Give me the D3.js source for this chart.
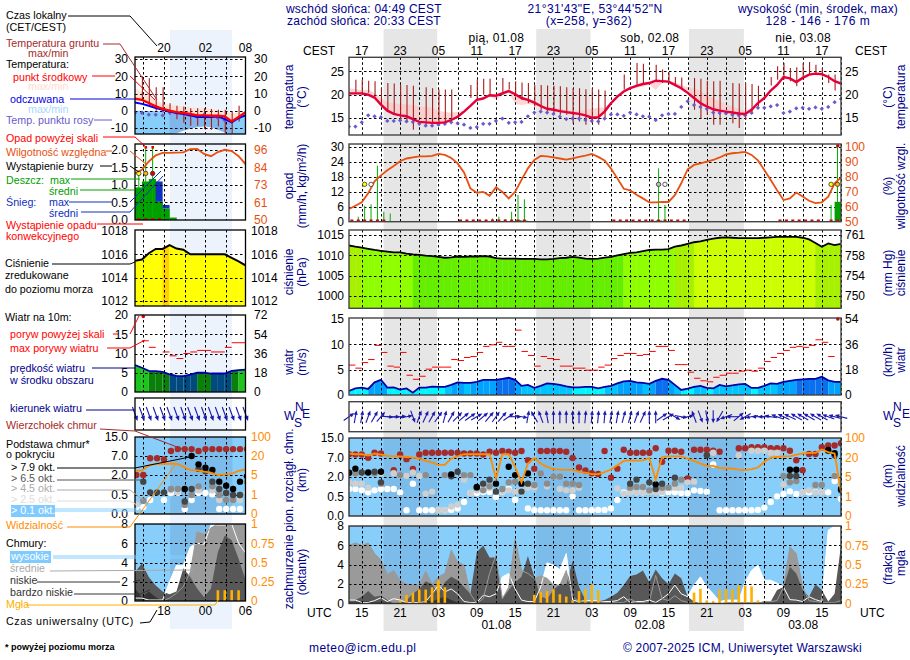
<!DOCTYPE html>
<html><head><meta charset="utf-8">
<script src="https://cdn.jsdelivr.net/npm/d3@7"></script>
<style>html,body{margin:0;padding:0;background:#fff}svg{display:block}text{font-family:"Liberation Sans",Arial,sans-serif;font-size:12px}</style>
</head><body><svg id="c" width="910" height="660"></svg>
<script>
// ---------- main meteogram, hourly from 13 UTC 31.07 ----------
const temp=[20.3,20.3,20.3,20.0,19.4,17.9,16.6,15.9,15.6,15.4,14.8,14.2,14.1,14.0,14.0,14.1,14.6,15.3,16.4,17.6,18.9,19.2,19.9,19.8,20.3,20.8,20.1,19.3,18.9,18.3,17.6,17.0,16.8,16.5,16.3,16.1,15.9,15.6,15.1,15.2,16.4,18.2,19.6,20.7,21.4,21.9,22.3,22.5,23.0,22.9,22.8,22.1,21.4,20.4,19.3,18.2,17.5,16.9,16.6,16.4,16.2,16.0,15.9,16.8,18.2,19.3,20.9,22.1,23.8,23.5,22.7,23.6,24.3,24.5,24.4,23.8,22.9,22.4];
const tempMax=[21.4,21.2,21,21,20.4,19.3,18.4,18.2,18,17.9,17.8,17.5,17.4,17.2,16.6,16.3,16.2,16.3,16.6,17.8,19,19.5,20.1,20.2,20.6,21.1,20.5,19.6,19.2,18.7,18,17.4,17.2,17,16.8,16.6,16.6,16.7,17,17.2,17.3,18.4,19.8,20.9,21.7,22.2,22.6,22.8,23.2,23.1,23,22.7,22.1,21.6,21.4,20.8,20,19.3,18.6,18,17.5,17,16.6,17.1,18.4,19.5,21.2,22.5,24,23.8,23,23.8,24.5,24.7,24.6,24,23.2,22.6];
const tempMin=[20,20,20,19.7,19,17.5,16.3,15.7,15.4,15.2,14.6,14,13.9,13.8,13.8,13.9,14.4,15.1,16.2,17.4,18.7,19,19.7,19,19.8,20.4,18,17.8,18,17.8,17.4,16.8,16.6,16.3,16.1,15.9,15.7,15.4,14.9,15,16.2,18,19.4,20.5,21.2,21.5,21.7,22.2,21,22.5,22.5,21.8,21.2,20.2,19.1,18,17.3,16.7,16.4,16.2,16,15.8,15.3,16.6,18,19.1,20.7,21.9,23.6,23.3,22.3,23.4,24.1,24.3,24.2,23.6,22.7,22.2];
const dewPoint=[13.2,13.2,14.1,15.6,15.4,15.2,14.4,14.4,14.5,14.3,14.2,13.8,13.4,13.4,13.6,13.8,14.1,13.9,13.6,12.9,13.1,13.8,13.8,14.4,14.9,14,14.1,14.2,15.4,16.2,16.4,16.2,15.9,15.3,14.8,14.9,14.9,14.6,14.4,14.3,14.9,15.8,15.8,15.5,16.2,15.8,15.4,15.3,14.6,15.6,15.9,15.9,17.4,18.6,17.8,17.4,17,16.2,16.1,16,15.7,15.6,15.6,16.1,17.2,17.2,17.5,17.8,16.1,16.4,17.1,17.2,17,17.3,17,17.4,18.4,19.1];
const groundMax=[null,23.2,23.2,23,22.9,21.4,22.5,22.4,22.1,22.1,21.9,null,21.6,21.4,21.1,21.1,21.1,null,null,22.1,23.2,23.4,23.4,null,23.6,22.7,22.9,22.6,22.5,22.1,22.1,22,21.9,21.8,21.6,21.4,21.4,21.2,21.4,21.1,20.9,null,null,24.3,null,26.8,26.6,null,26.4,25.4,24.8,23.8,23.7,null,23.6,23.4,23,22.9,23,null,22.5,22.4,22.5,22.3,21.9,null,23.8,26.1,26.8,25.7,25.9,26.8,27,26.4,25.7,24.3,24.3,null];
const groundMin=[null,20.4,20,20.4,19.6,17.9,16.4,16.1,14.6,14.3,12.5,null,13.6,13.6,13.4,14.3,15,null,null,19.3,18.9,20,20,null,20,21.1,19.6,18.9,18.2,17.5,16.8,16.4,16.1,15.7,15.7,13.9,14.3,13.6,13.9,13.6,15,null,null,21.1,null,22.1,22.5,null,22.9,22.5,22.5,21.8,21.1,null,16.8,15,15.7,13.6,13.6,null,13.9,12.9,14.6,16.1,17.5,null,22,23.2,23.2,22.9,21.8,23.6,24.3,24.3,23.9,22.5,20.9,null];
const humidity=[58.5,60.7,63,69,77,81,84.4,87.3,90.5,92.3,93,93.7,93.7,94,95.4,94.7,92.6,89,83,72.3,69.4,70,67.4,73,70,65.6,70,78,85.7,91.3,94,93.7,93,92.3,91.5,92.3,93.4,94.3,95.4,93.4,91,85.6,79,72,71,68,65.6,62.9,62.9,63.2,63.2,67.8,75.7,85,88,89,90.2,91.3,93,95,95.8,96.2,96.7,94.7,91,84.6,77.9,71,64.5,65.6,69.5,66.8,64,62.5,63,66.8,75.7,79.5];
const rainMax=[0,2,6.4,7,22.5,4,3.3,0,0,0,0,0,0,0,0,0,0,0,0,0,0,0,1.3,2,1,4,10.7,9,0,0,0,0,0,0,0,0,0,0,0,0,0,0,0,0,0,0,0,0,21.4,6.7,0,0,0,0,0,0,0,0,0,0,0,0,0,0,0,0,0,0,0,0,0,0,0,0,0,6.7,30];
const rainMean=[0,0,0,0,0,0,0,0,0,0,0,0,0,0,0,0,0,0,0,0,0,0,0,0,0,0,.6,.4,0,0,0,0,0,0,0,0,0,0,0,0,0,0,0,0,0,0,0,0,.5,0,0,0,0,0,0,0,0,0,0,0,0,0,0,0,0,0,0,0,0,0,0,0,0,0,0,0,8];
const convective=[0,1,2,3,4,5,17,18,19,20,21,22,23,24,25,26,27,41,42,43,44,45,46,47,48,49,50,51,52,67,68,69,70,71,72,73,75,76];
const thunderHours=[2,3,48,49,75,76];
const thunderLevel=[3,0,1,0,3,4];
const pressure=[1012.4,1012.1,1011.9,1011.6,1011.3,1011.1,1010.9,1010.7,1010.7,1010.4,1010.2,1010.1,1009.9,1009.8,1009.6,1009.4,1009.5,1009.7,1009.6,1009.7,1009.7,1009.8,1009.7,1009.3,1009.2,1009.2,1009.2,1009.1,1009.1,1009.1,1009,1009,1009.1,1009.3,1009.4,1009.6,1009.4,1009.2,1009.1,1009.2,1009.4,1009.6,1010,1010.3,1010.6,1010.7,1011,1011.3,1011.4,1011.4,1011.5,1012.1,1012.4,1012.8,1013.2,1013.4,1013.8,1014.1,1014.3,1014.4,1014.3,1014.2,1014.2,1014.2,1014.2,1014.3,1014.4,1014.5,1014.5,1014.5,1014.5,1014.3,1013.9,1013,1012.1,1012.9,1012.5,1012.8];
const gust=[5.9,5.3,6.4,7,9.8,8.4,5.7,5.5,8.4,3.9,3.1,3.7,5.1,5.5,5.5,5.5,7,6.8,7.4,7.6,8.4,9.6,9.9,10.4,9.6,9.6,12.8,8.6,7.8,5.7,7.6,7.2,7,5.7,5.7,5.3,5.3,4.9,4.9,5.5,5.9,7.2,7.8,8.2,8.2,7.8,8,8.6,9.6,9.6,8.8,6,6,4.5,3.3,2.8,2.6,3.5,3.9,4.3,4.3,4.7,4.9,4.7,5.3,6.6,7.4,8.2,8.8,9.4,9.6,9.4,9.8,10.9,10.4,7.6];
const wind=[.8,1.3,1.45,1.2,2.5,3,1.45,1.5,1.05,1.3,.45,1.45,1.45,1.65,1.6,1.6,2,2.5,2.4,2.4,2.6,3,3,3,3.2,3.4,3,1.8,2,1.4,1.8,2.3,2.2,2,1.7,1.5,1.5,1.6,1.6,1.3,1.6,1.8,2.3,2.7,2.8,2.5,2.4,2.2,2.8,3.2,3,2,1,1.25,1.6,1.8,1.4,1.3,2,1.7,1.9,2.1,2.2,1.4,1.4,1.8,2.3,2.2,2.6,2.8,3,3.1,3.2,3.2,3.6,2.9,2.6,2.6];
const windHeading=[55,10,10,20,30,40,95,90,85,80,160,20,25,30,35,15,30,45,50,55,60,50,40,35,40,55,90,100,10,-30,-20,-10,0,0,0,0,0,5,5,5,5,10,10,15,15,20,25,0,0,55,60,120,100,80,-20,160,170,180,-150,-110,-90,50,-120,-100,-90,-90,-80,-70,-65,-65,-60,-60,-60,-60,-60,-70,-75,-75];
const cloudTop=[8.5,8.4,8.4,7.1,9.1,8.8,null,3.8,8.4,6.7,4.1,8.4,9.1,9.1,9.1,9.1,9.1,9.1,8.8,8.8,8.8,8.4,9.5,9.1,9.8,9.5,9.1,9.8,6.4,4.2,9.8,9.8,9.8,9.8,9.5,7,4.5,3.7,3,2.8,9.8,1.95,4.2,10.3,9.1,9.1,9.1,9.1,10.9,6,9.9,9.9,9.5,1.9,10.3,10.3,10.3,9.9,9.5,null,null,10.9,10.9,11.3,11.3,11.3,10.9,10.9,10.9,9.9,6.4,3.8,8.6,8.6,11.3,12,12,12.9];
const base01=[1.1,1.1,1,.85,1,1.1,1.1,1.1,.85,.15,1.5,.15,.15,.15,.15,.15,.16,.2,.37,.8,.8,.88,.88,.5,.88,1.1,.42,.88,.2,.15,.15,.15,.15,.15,.15,.55,.15,.15,.15,.16,.16,.2,.42,.85,.85,.85,.85,.88,.88,.8,.85,.85,.8,.78,1,.95,.9,5.3,.15,.15,.15,.15,.15,.15,.16,.22,.37,.55,.73,.92,.73,.85,.85,.87,.85,.85,1.7,.45];
const base25=[1.6,1.5,1.5,1.2,null,3,null,3,2.4,2.3,3.2,2.25,.75,.9,.15,.15,.25,.3,1.8,.8,1,1.2,1.2,null,.9,1,.9,1,1.2,1.2,null,1.3,2.1,1.1,1,1,1.2,null,null,null,null,null,1.15,.75,.85,.85,.85,.85,.85,.85,null,1.2,1.2,1.6,1.65,null,null,9.1,null,null,null,8.1,null,9.9,9.9,9.9,9.1,9.1,1.45,null,null,.85,1,.85,.85,null,2.5,null];
const base45=[null,3,null,null,3,1.5,null,null,2.5,null,null,null,2.5,null,null,2.5,null,null,2.5,2.5,null,1,1.3,null,1.1,1.6,1.65,null,null,1.4,2.95,1.5,2.1,2.1,1.5,1.5,1.4,null,null,null,null,null,null,null,1.2,1.25,1.25,1,null,1.2,1.2,1.5,1.8,null,null,null,null,null,null,null,null,null,null,null,null,null,null,null,2.25,1.6,1.7,null,null,1.4,1.4,null,2.25,null];
const base65=[3.1,null,3.2,null,3.4,1.6,null,null,null,null,null,null,null,null,null,null,2.2,3.4,null,null,1.2,1.5,1.8,.9,null,null,null,.9,1.5,null,null,null,null,null,null,null,null,null,null,null,null,null,null,null,1.5,1.8,null,1.6,1.1,1.5,null,1.95,null,null,null,null,8.1,null,null,null,null,null,null,null,null,null,null,null,null,2.25,2.25,null,null,null,null,9.8,8.1,1];
const base79=[3.1,4.2,null,3.2,null,3.4,null,null,null,null,null,null,null,null,null,null,2.7,null,null,null,1.25,null,null,1.5,null,4.7,2.5,1.5,2.95,null,null,null,null,null,null,null,null,null,null,null,null,null,null,null,null,null,null,null,1.45,null,null,null,null,null,null,null,null,null,null,null,null,null,null,null,null,null,null,null,null,3.9,3.9,null,null,null,null,10.2,8.9,1.1];
const visibility=[38,35,35,29.7,38,33.8,28.3,26.9,26.9,24,21.4,19.5,17.7,16.4,14.6,14.6,19.5,26.9,35,35,35,35,35,4.7,35,35,13,3.9,15.6,20,15.6,13,11.2,10.9,10.7,10.7,9.1,8.4,7.3,7.3,8.9,10.9,14.3,17.7,18.2,17.9,18.2,20,4.5,24,26.9,26.9,26.9,19.5,17.7,15.6,13.8,13.8,12.2,11.7,11.7,10.9,10.4,11.2,12.5,16.9,21.4,24,26.9,26.9,33.8,38,40.7,40.7,54.5,43.4,38,1.97];
const cloudHigh=[.35,.35,.1,.1,.3,.6,.2,.5,.35,.1,.1,.1,.2,1,1.9,1.2,1.5,1,.2,.1,.1,.85,.7,1,2.75,3.1,1.5,.35,.2,.2,1.7,4.2,3.95,3.5,5.15,.35,.2,.3,.3,.3,.2,.2,.3,.7,.1,.2,.2,.35,.1,.5,1,1.9,1,.7,1.9,2.75,1.7,1,.2,.35,.35,.35,2.2,3.4,3.95,2.4,2.4,2.1,1.7,.4,.35,.2,.7,.4,.2,7.55,8,8];
const cloudMid=[6,6.25,6,6.25,5.15,4.5,3,3.4,2.4,2,1.9,1.9,3.3,2,2.75,3.1,5.5,4.3,3.95,1,0,.5,3.1,5,.5,1.7,6.7,3.4,3.1,2.6,2.85,2.6,1.9,1.9,3.4,.7,.2,.2,.2,.2,.1,.1,.1,.1,.5,.1,.1,.2,2.9,.5,.3,.8,.3,.1,0,0,0,0,0,0,0,0,0,0,0,.2,.2,.3,1.7,5.85,5.15,1.7,.3,.2,.1,.1,.1,.3];
const cloudLow=[.35,.35,.7,1.3,.7,.8,.35,0,.1,.3,1,1.5,2.3,2,1,2.2,2.75,2.4,1.7,1,5.3,6,4.75,4.75,.5,1.4,2.2,2.75,4.9,2.75,.7,.5,1.4,2,1.9,4.4,1.7,.35,.35,.35,.35,.7,1.1,1.9,2.85,3,3.4,2.2,3.5,2.6,2,3.1,2.6,.7,.2,0,0,0,0,.1,.1,.1,.1,.1,.1,.2,.2,1.4,1.7,3.8,3.1,1.4,.7,2,1.4,.2,1,6];
const cloudVeryLow=[.1,.1,.2,.2,.1,.1,.1,0,0,0,.1,.2,.3,.2,.5,.7,.35,.1,0,0,0,0,0,0,0,0,0,0,0,0,0,0,0,0,0,0,0,0,0,0,0,0,0,0,0,0,0,0,0,0,0,0,0,0,0,0,0,0,0,0,0,0,0,0,0,0,0,0,0,0,0,0,0,0,0,0,0,0];
const fog=[0,0,0,0,0,0,0,0,.04,.11,.14,.18,.18,.21,.3,.21,0,0,0,0,0,0,0,0,0,0,0,0,0,.11,.15,.16,.18,.12,.09,.04,.16,.19,.245,.17,0,0,0,0,0,0,0,0,0,0,0,0,0,0,.14,.19,.04,.03,.18,.185,.185,.23,.23,.22,.04,0,0,0,0,0,0,0,0,0,0,0,0,0];
// ---------- legend (small) meteogram, 17 hourly values ----------
const lTemp=[7,6.3,4.5,2.5,1.1,0,-.8,-1.3,-1.9,-2.7,-2.7,-2.9,-2.9,-3.3,-6.2,-3.7,-.8];
const lFeel=[4.8,4,2.9,1.5,.6,-.4,-1.3,-1.9,-2.7,-3.7,-3.7,-3.7,-3.3,-4.8,-6.7,-4.2,-2.7];
const lTempMax=[13,11,8,6,4,3.5,3,2.5,2,1.5,1.5,1,.5,-.4,-1.3,-1.3,-.4];
const lFeelMax=[0,0,-.2,-.2,-.5,-1,-1.5,-2,-2.7,-3,-3,-3,-3.3,-4.5,-6.5,-4,-1];
const lFeelMin=[-13.5,-13.5,-13.5,-13.5,-13.5,-13.5,-13,-11.5,-10.5,-9.5,-9,-9.5,-11,-12.5,-13.5,-13.5,-13.5];
const lDew=[-1.3,-1.3,-2.3,-2.3,-2.7,-1,-1.3,-1.7,-2.3,-3.7,-2.3,-3.3,-4.2,-5.6,-6.2,-4.2,null];
const lGroundMax=[null,19.8,18.8,13.6,13.6,4.4,2.9,2.5,1.5,1.5,1.5,1,.6,.6,-.4,2.9,null];
const lGroundMin=[null,6,3.5,0,-1,-2.3,-5,-7,-8.7,-8.7,-10.6,-11,-9,-13,-13,-6.2,null];
const lHumidity=[80.7,83,88.5,92.5,94.2,94.2,94.3,94.5,96.6,96.7,93.5,92,94.7,96.2,95.3,92,86.8];
const lRainMax=[1.33,2.1,2.1,0,0,0,0,0,0,0,0,0,0,0,0,0,0];
const lRainMean=[.93,1.1,1.17,.52,.33,.07,0,0,0,0,0,0,0,0,0,0,0];
const lSnowMean=[0,0,0,1.1,.43,0,0,0,0,0,0,0,0,0,0,0,0];
const lPressure=[1015.45,1015.56,1016.1,1016.47,1016.47,1016.8,1016.5,1016.4,1016,1016,1016,1016,1016,1016,1015.7,1015.4,1015.05];
const lWind=[7,6.3,5.5,5.4,5.2,4.6,4.2,4.1,4.5,5,5,4.8,4.8,4.8,5.5,5.7,5.8];
const lGust=[null,13.3,11.6,null,10.4,9.4,8.7,10,10.4,10.8,10.8,10.4,10.4,11.6,12.8,12.8];
const lTop=[2,2,6.4,6.4,6.1,9.1,9.9,9.9,9.9,9.1,9.9,9.9,9.9,9.9,9.9,9.9,9.9];
const lBase01=[.18,.18,.37,null,.37,.65,.66,.13,.37,.65,.65,.55,.13,.13,.13,.13,null];
const lBase25=[.25,null,null,null,null,.85,.7,null,null,.85,null,.85,.37,.37,.37,.37,.7];
const lBase45=[null,.35,null,null,null,.95,.95,.24,.5,1.15,null,1.15,.5,.37,.37,.5,1.5];
const lBase65=[null,1.5,.7,.7,.7,null,null,.33,.95,3.6,3,1.5,.95,.65,.5,.5,null];
const lBase79=[null,null,null,null,null,null,null,.95,7,4.8,3.9,3.3,1.5,1.2,.95,1.5,1.9];
const lVis=[8.4,8.4,12.4,13.7,13.9,13.9,13.9,11.6,8.9,8.7,7.6,6.8,5,5.5,6,8.2,9.5];
const lHigh=[.3,.3,.1,.1,.1,2,3.7,3.7,5.6,6,5.9,7.9,7.9,7.9,8,6,5];
const lMid=[0,0,0,0,0,.3,.8,1.5,3,7.2,6.9,7.6,8,8,8,8,8];
const lLow=[3,3.9,2.5,1.6,1,.7,1,3.4,2.5,1.3,.4,1.3,5.1,6.8,6.3,4.4,2.2];
const lVeryLow=[1.3,.4,1,.4,0,0,0,0,0,0,0,0,0,0,0,0,0];
const lFog=[0,0,0,0,0,0,0,0,0,0,0,0,.14,.14,.14,.14,0];
const lHeading=[160,160,160,160,160,160,160,160,160,160,160,160,160,160,160,160,160];
// ---------- tick labels ----------
const cestTicks=["17","23","05","11","17","23","05","11","17","23","05","11","17"];
const utcTicks=["15","21","03","09","15","21","03","09","15","21","03","09","15"];
const hourTickIdx=[2,8,14,20,26,32,38,44,50,56,62,68,74];
const dayLabels=["01.08","02.08","03.08"];
const dayNames=["pią, 01.08","sob, 02.08","nie, 03.08"];
const dayHours=[23,47,71];
const nights=[[5.4,13.8],[29.3,37.8],[53.2,61.8]];
const baseTicks=[0,.5,2,7,15];
const visTicks=[0,1,5,20,100];

const NAVY="#00008b",ORANGE="#ff8c00",HUM="#e8500f",GREEN="#00a000",BROWN="#a52a2a";
const svg=d3.select("#c");
const T=(x,y,s,col="#000",anc="start",opt={})=>{const t=svg.append("text").attr("x",x).attr("y",y).attr("fill",col).attr("text-anchor",anc).attr("letter-spacing",opt.ls||0).text(s);if(opt.size)t.style("font-size",opt.size+"px");if(opt.weight)t.style("font-weight",opt.weight);return t;};
const V=(x,cy,s)=>svg.append("text").attr("transform",`translate(${x},${cy}) rotate(-90)`).attr("fill",NAVY).attr("text-anchor","middle").text(s);

const mx=d3.scaleLinear([0,77],[349,841]);
const lx=d3.scaleLinear([0,16],[135,245.5]);
const idx=a=>a.map((v,i)=>[i,v]);

// background bands
nights.forEach(n=>svg.append("rect").attr("x",mx(n[0])).attr("width",mx(n[1])-mx(n[0])).attr("y",29).attr("height",602).attr("fill","#e6e6e6"));
svg.append("rect").attr("x",170).attr("width",62).attr("y",30).attr("height",599).attr("fill","#ecf3fd");

let clipId=0;
function panel(x,top,bottom){const id="cp"+(clipId++);
  svg.append("clipPath").attr("id",id).append("rect").attr("x",x.range()[0]).attr("y",top).attr("width",x.range()[1]-x.range()[0]).attr("height",bottom-top);
  const g=svg.append("g").attr("clip-path",`url(#${id})`);
  return {g,x,top,bottom};}
function grid(p,y,vals,vGrid){const [x0,x1]=p.x.range();
  const gg=svg.append("g").attr("stroke","#000").attr("stroke-width",1).attr("stroke-dasharray","2.5 2.5");
  vals.forEach(v=>gg.append("line").attr("x1",x0).attr("x2",x1).attr("y1",Math.round(y(v))+.5).attr("y2",Math.round(y(v))+.5));
  vGrid.forEach(v=>gg.append("line").attr("x1",Math.round(p.x(v))+.5).attr("x2",Math.round(p.x(v))+.5).attr("y1",p.top).attr("y2",p.bottom));}
function frame(p,col,w){svg.append("rect").attr("x",p.x.range()[0]).attr("y",p.top).attr("width",p.x.range()[1]-p.x.range()[0]).attr("height",p.bottom-p.top).attr("fill","none").attr("stroke",col).attr("stroke-width",w);}
function axis(orient,xpos,scale,vals,col="#000",fmt=null){const ax=(orient==="l"?d3.axisLeft(scale):d3.axisRight(scale)).tickValues(vals).tickSize(0).tickPadding(0).tickFormat(fmt||(d=>String(d)));
  const g=svg.append("g").attr("transform",`translate(${xpos},0)`).call(ax);g.select(".domain").remove();g.selectAll("text").attr("fill",col).style("font-size","12px").style("font-family","'Liberation Sans',Arial,sans-serif");}
const lineOf=(x,y)=>d3.line().defined(d=>d[1]!=null).x(d=>x(d[0])).y(d=>y(d[1]));
const mainV=d3.range(2,78,3), leftV=[1.2,4.2,7.2,10.2,13.2];
function nightRects(p,list,col){list.forEach(n=>p.g.append("rect").attr("x",p.x(n[0])).attr("width",p.x(n[1])-p.x(n[0])).attr("y",p.top).attr("height",p.bottom-p.top).attr("fill",col));}

function drawTemp(x,top,bottom,y,ticks,vGrid,d){
  const p=panel(x,top,bottom);
  if(d.feelMax){const ar=d3.area().x(i=>x(i)).y0(i=>y(d.feelMin[i])).y1(i=>y(d.feelMax[i]));
    p.g.append("path").datum(d3.range(d.t.length)).attr("fill","#87cefa").attr("d",ar);
    p.g.append("path").datum(d3.range(5,15)).attr("fill","#80b6ea").attr("d",ar);}
  p.g.append("path").datum(d3.range(d.t.length)).attr("fill",d.pink).attr("opacity",d.op).attr("d",d3.area().x(i=>x(i)).y0(i=>y(d.min[i])).y1(i=>y(d.max[i])));
  grid(p,y,ticks,vGrid);
  const q=panel(x,top,bottom);
  d.gMax.forEach((v,i)=>{if(v!=null&&d.gMin[i]!=null)q.g.append("line").attr("x1",x(i)+.5).attr("x2",x(i)+.5).attr("y1",y(v)).attr("y2",y(d.gMin[i])).attr("stroke","#a81c1c").attr("stroke-width",1.1);});
  d.dew.forEach((v,i)=>{if(v!=null)q.g.append("rect").attr("x",x(i)-1.5).attr("y",y(v)-1.5).attr("width",3).attr("height",3).attr("fill","#6a5acd").attr("transform",`rotate(45 ${x(i)} ${y(v)})`);});
  if(d.feel)q.g.append("path").datum(idx(d.feel)).attr("fill","none").attr("stroke","#0000ff").attr("stroke-width",2).attr("d",lineOf(x,y));
  q.g.append("path").datum(idx(d.t)).attr("fill","none").attr("stroke",d.lineCol).attr("stroke-width",2.4).attr("d",lineOf(x,y));
  return p;}

// --- main temperature
const yT=d3.scaleLinear([11.4,28],[135,57.3]);
const pT=drawTemp(mx,57.3,135,yT,[25,20,15],mainV,{t:temp,max:tempMax,min:tempMin,pink:"#ffc4c4",op:.7,gMax:groundMax,gMin:groundMin,dew:dewPoint,lineCol:"#e6003a"});
frame(pT,"#444",1.4);axis("l",344,yT,[25,20,15]);axis("r",845,yT,[25,20,15]);
// --- main precipitation
const yR=d3.scaleLinear([0,31.2],[221.7,144]),yH=d3.scaleLinear([50,102],[221.7,144]);
const pR=panel(mx,144,221.7);
grid(pR,yR,[6,12,18,24,30],mainV);
const pR2=panel(mx,144,222.5);
rainMax.forEach((v,i)=>{if(v>0)pR2.g.append("line").attr("x1",mx(i+.45)).attr("x2",mx(i+.45)).attr("y1",yR(v)).attr("y2",yR(0)).attr("stroke","#00b000").attr("stroke-width",1);});
rainMean.forEach((v,i)=>{if(v>0)pR2.g.append("rect").attr("x",mx(i)).attr("width",mx(1)-mx(0)).attr("y",yR(v)).attr("height",yR(0)-yR(v)).attr("fill",GREEN);});
convective.forEach(i=>pR2.g.append("rect").attr("x",mx(i+.45)-1.5).attr("y",yR(0)-2.2).attr("width",3).attr("height",2.4).attr("fill","#d80000"));
pR2.g.append("path").datum(idx(humidity)).attr("fill","none").attr("stroke",HUM).attr("stroke-width",1.8).attr("d",lineOf(mx,yH));
const thunderFill=["#fff","#bbb","#ffff00","#ffff00","#ffb000"];
thunderHours.forEach((h,k)=>svg.append("circle").attr("cx",mx(h+.45)).attr("cy",yR(15)).attr("r",2.2).attr("fill",thunderFill[thunderLevel[k]]).attr("stroke","#333").attr("stroke-width",.8));
svg.append("circle").attr("cx",mx(76.5)).attr("cy",yR(30.5)).attr("r",1.8).attr("fill","#e00000");
frame(pR,"#444",1.4);axis("l",344,yR,[0,6,12,18,24,30]);axis("r",845,yH,[50,60,70,80,90,100],HUM);
// --- main pressure
const yP=d3.scaleLinear([997,1016.2],[308.3,230]);
const pcol=d3.scaleThreshold([1010.3,1012,1013.1],["#66ee00","#8fff00","#a6f000","#ccff00"]);
const pP=panel(mx,230,308.3);
pressure.slice(0,-1).forEach((v,i)=>pP.g.append("path").datum([i,i+1]).attr("fill",pcol(v)).attr("stroke",pcol(v)).attr("stroke-width",.4).attr("d",d3.area().x(t=>mx(t)).y0(308.3).y1(t=>yP(pressure[t]))));
grid(pP,yP,[1015,1010,1005,1000],mainV);
const pP2=panel(mx,230,308.3);
pP2.g.append("path").datum(idx(pressure)).attr("fill","none").attr("stroke","#000").attr("stroke-width",1.8).attr("d",lineOf(mx,yP));
frame(pP,"#444",1.4);axis("l",344,yP,[1015,1010,1005,1000]);axis("r",845,yP,[1015,1010,1005,1000],"#000",d=>Math.round(d*.75006));
// --- main wind
const yW=d3.scaleLinear([0,15],[395,319]);
const wcol=d3.scaleThreshold([1.7,2.5,3.05],["#00f5ff","#00c4ff","#00a4ff","#0a70ee"]);
const pW=panel(mx,318,395);
wind.slice(0,-1).forEach((v,i)=>pW.g.append("path").datum([i,i+1]).attr("fill",wcol(Math.max(v,wind[i+1]))).attr("d",d3.area().x(t=>mx(t)).y0(395).y1(t=>yW(wind[t]))));
grid(pW,yW,[5,10],mainV);
const pW2=panel(mx,318,395);
pW2.g.append("path").datum(idx(wind)).attr("fill","none").attr("stroke","#0000a8").attr("stroke-width",1.8).attr("d",lineOf(mx,yW));
gust.forEach((v,i)=>pW2.g.append("line").attr("x1",mx(i)).attr("x2",mx(i+1)).attr("y1",yW(v)).attr("y2",yW(v)).attr("stroke","#f00").attr("stroke-width",1));
svg.append("circle").attr("cx",mx(76.5)).attr("cy",319).attr("r",1.8).attr("fill","#e00000");
frame(pW,"#444",1.4);axis("l",344,yW,[0,5,10,15]);axis("r",845,yW,[0,5,10,15],"#000",d=>d*3.6);
// --- direction
function arrows(x,top,bottom,heads,len,col,hs){const cy=(top+bottom)/2;
  heads.forEach((h,i)=>{const g=svg.append("g").attr("transform",`translate(${x(i)},${cy}) rotate(${h})`);
    g.append("line").attr("y1",len/2).attr("y2",-len/2+hs).attr("stroke",col).attr("stroke-width",1.1);
    g.append("path").attr("d",`M0,${-len/2}L${hs*.55},${-len/2+hs+1}L${-hs*.55},${-len/2+hs+1}Z`).attr("fill",col);});}
const pD={x:mx,top:401.7,bottom:431.7};
grid(pD,yW,[],mainV);
arrows(mx,401.7,431.7,windHeading,13,"#1a1ab0",3.5);
frame(pD,"#444",1.4);
// --- main cloud base
const yB=d3.scaleLinear(baseTicks,[516,497,477,458,438]);
const yV=d3.scaleLinear(visTicks,[516,497,477,458,438]);
function drawBase(x,top,bottom,y,yv,nn,vGrid,s,off,r){
  const p=panel(x,top,bottom);
  p.g.append("rect").attr("x",x.range()[0]).attr("y",top).attr("width",x.range()[1]-x.range()[0]).attr("height",bottom-top).attr("fill","#87cefa");
  nightRects(p,nn,"#7cbcea");
  grid(p,y,[.5,2,7],vGrid);
  const q=panel(x,top-1,bottom);
  [[s.top,BROWN],[s.b01,"#fff"],[s.b25,"#cfcfcf"],[s.b45,"#8c8c8c"],[s.b65,"#454545"],[s.b79,"#000"]].forEach(([arr,c])=>{
    arr.forEach((v,i)=>{if(v!=null)q.g.append("circle").attr("cx",x(i+off)).attr("cy",y(v)).attr("r",r).attr("fill",c);});});
  q.g.append("path").datum(idx(s.vis)).attr("fill","none").attr("stroke",ORANGE).attr("stroke-width",1.8).attr("d",lineOf(x,yv));
  return p;}
const pB=drawBase(mx,438,516,yB,yV,nights,mainV,{top:cloudTop,b01:base01,b25:base25,b45:base45,b65:base65,b79:base79,vis:visibility},0,3.2);
frame(pB,"#333",1.4);
axis("l",344,yB,baseTicks,"#000",d3.format(".1f"));axis("r",845,yV,visTicks,ORANGE);
// --- main cloud cover
const yC=d3.scaleLinear([0,8],[603.5,526]),yF=d3.scaleLinear([0,1],[603.5,526]);
function drawCover(x,top,bottom,y,yf,nn,vGrid,s,fw){
  const p=panel(x,top,bottom);
  p.g.append("rect").attr("x",x.range()[0]).attr("y",top).attr("width",x.range()[1]-x.range()[0]).attr("height",bottom-top).attr("fill","#87cefa");
  nightRects(p,nn,"#7cbcea");
  const area=d3.area().x(d=>x(d[0])).y0(bottom).y1(d=>y(d[1]));
  [[s.high,"#fff"],[s.mid,"#9a9a9a"],[s.low,"#585858"],[s.vlow,"#333"]].forEach(([a,c])=>p.g.append("path").datum(idx(a)).attr("fill",c).attr("d",area));
  [[s.high,"#fff"],[s.mid,"#9a9a9a"]].forEach(([a,c])=>p.g.append("path").datum(idx(a)).attr("fill","none").attr("stroke",c).attr("stroke-width",1).attr("d",lineOf(x,y)));
  grid(p,y,[2,4,6],vGrid);
  const q=panel(x,top,bottom);
  s.fog.forEach((v,i)=>{if(v>0)q.g.append("rect").attr("x",x(i)-fw/2).attr("width",fw).attr("y",yf(v)).attr("height",bottom-yf(v)).attr("fill","#ffb000");});
  return p;}
const pC=drawCover(mx,526,603.5,yC,yF,nights,mainV,{high:cloudHigh,mid:cloudMid,low:cloudLow,vlow:cloudVeryLow,fog:fog},2.6);
frame(pC,"#333",1.4);axis("l",344,yC,[0,2,4,6,8]);axis("r",845,yF,[0,.25,.5,.75,1],ORANGE);

// ---------- legend panels ----------
const ln=[[5.1,14.1]];
const lyT=d3.scaleLinear([-13.5,31.2],[134,57]);
const lpT=drawTemp(lx,57,134,lyT,[30,20,10,0,-10],leftV,{t:lTemp,feel:lFeel,max:lTempMax,min:lTemp,pink:"#ffe2d6",op:1,feelMax:lFeelMax,feelMin:lFeelMin,gMax:lGroundMax,gMin:lGroundMin,dew:lDew,lineCol:"#f00"});
frame(lpT,"#000",1.3);axis("l",128,lyT,[30,20,10,0,-10]);axis("r",254,lyT,[30,20,10,0,-10]);
const lyR=d3.scaleLinear([0,2.17],[220,144]),lyH=d3.scaleLinear([50,100],[220,144]);
const lpR=panel(lx,144,220);
lRainMean.forEach((v,i)=>{if(v>0)lpR.g.append("rect").attr("x",lx(i)).attr("width",lx(1)-lx(0)+.3).attr("y",lyR(v)).attr("height",220-lyR(v)).attr("fill",GREEN);});
lSnowMean.forEach((v,i)=>{if(v>0)lpR.g.append("rect").attr("x",lx(i)).attr("width",lx(1)-lx(0)).attr("y",lyR(v)).attr("height",lyR(lRainMean[i])-lyR(v)).attr("fill","#1030c0");});
grid(lpR,lyR,[.5,1,1.5,2],leftV);
const lpR2=panel(lx,144,220.5);
lRainMax.forEach((v,i)=>{if(v>1)lpR2.g.append("line").attr("x1",lx(i+.55)).attr("x2",lx(i+.55)).attr("y1",lyR(v)).attr("y2",lyR(0)).attr("stroke","#00b000").attr("stroke-width",1);});
[0,1,2,3].forEach(i=>lpR2.g.append("rect").attr("x",lx(i+.55)-1.5).attr("y",218).attr("width",3).attr("height",2).attr("fill","#e00000"));
lpR2.g.append("path").datum(idx(lHumidity)).attr("fill","none").attr("stroke",HUM).attr("stroke-width",1.8).attr("d",lineOf(lx,lyH));
[0,1,2].forEach((i,k)=>svg.append("circle").attr("cx",lx(i+.55)).attr("cy",lyR(1.33)).attr("r",2.2).attr("fill",["#ffff00","#ffb000","#e00000"][k]).attr("stroke","#333").attr("stroke-width",.8));
[1,2].forEach(i=>{svg.append("rect").attr("x",lx(i+.55)-1.2).attr("y",lyR(2.17)+2).attr("width",2.6).attr("height",2.6).attr("fill","#e00000");});
frame(lpR,"#000",1.3);axis("l",128,lyR,[0,.5,1,1.5,2],"#000",d3.format(".1f"));
axis("r",254,lyH,[50,61.4,73,84.4,96],HUM,d=>Math.round(d));
const lyP=d3.scaleLinear([1011.57,1018.09],[306,230]);
const lpP=panel(lx,230,306);
lPressure.slice(0,-1).forEach((v,i)=>lpP.g.append("path").datum([i,i+1]).attr("fill",(i===4)?"#ffd000":"#ffff00").attr("stroke",(i===4)?"#ffd000":"#ffff00").attr("stroke-width",.3).attr("d",d3.area().x(t=>lx(t)).y0(306).y1(t=>lyP(lPressure[t]))));
grid(lpP,lyP,[1012,1014,1016],leftV);
const lpP2=panel(lx,230,306);
lpP2.g.append("path").datum(idx(lPressure)).attr("fill","none").attr("stroke","#000").attr("stroke-width",2).attr("d",lineOf(lx,lyP));
frame(lpP,"#000",1.3);axis("l",128,lyP,[1012,1014,1016,1018]);axis("r",251,lyP,[1012,1014,1016,1018]);
const lyW=d3.scaleLinear([0,20],[392,315]);
const lwcol=d3.scaleThreshold([4.9,5.6],["#004a80","#0a800a","#1ec41e"]);
const lpW=panel(lx,315,392);
lWind.slice(0,-1).forEach((v,i)=>lpW.g.append("path").datum([i,i+1]).attr("fill",lwcol(v)).attr("d",d3.area().x(t=>lx(t)).y0(392).y1(t=>lyW(lWind[t]))));
grid(lpW,lyW,[5,10,15],leftV);
const lpW2=panel(lx,315,392);
lpW2.g.append("path").datum(idx(lWind)).attr("fill","none").attr("stroke","#0000a8").attr("stroke-width",1.8).attr("d",lineOf(lx,lyW));
lGust.forEach((v,i)=>{if(v!=null)lpW2.g.append("line").attr("x1",lx(i)).attr("x2",lx(i+1)).attr("y1",lyW(v)).attr("y2",lyW(v)).attr("stroke","#f00").attr("stroke-width",1);});
svg.append("circle").attr("cx",lx(1.2)).attr("cy",316.5).attr("r",1.8).attr("fill","#e00000");
frame(lpW,"#000",1.3);axis("l",128,lyW,[0,5,10,15,20]);axis("r",254,lyW,[0,5,10,15,20],"#000",d=>d*3.6);
const lpD={x:lx,top:398,bottom:430};
grid(lpD,lyW,[],leftV);
arrows(lx,398,430,lHeading,15,"#1a1ab0",4);
frame(lpD,"#000",1.3);
const lyB=d3.scaleLinear(baseTicks,[514,495,475,456,437]),lyV=d3.scaleLinear(visTicks,[514,495,475,456,437]);
const lpB=drawBase(lx,437,514,lyB,lyV,ln,leftV,{top:lTop,b01:lBase01,b25:lBase25,b45:lBase45,b65:lBase65,b79:lBase79,vis:lVis},.2,3.2);
frame(lpB,"#000",1.3);
axis("l",128,lyB,baseTicks,"#000",d3.format(".1f"));axis("r",251,lyV,visTicks,ORANGE);
const lyC=d3.scaleLinear([0,8],[601,524]),lyF=d3.scaleLinear([0,1],[601,524]);
const lpC=drawCover(lx,524,601,lyC,lyF,ln,leftV,{high:lHigh,mid:lMid,low:lLow,vlow:lVeryLow,fog:lFog},2.6);
frame(lpC,"#000",1.3);axis("l",128,lyC,[0,2,4,6,8]);axis("r",251,lyF,[0,.25,.5,.75,1],ORANGE);

// ---------- texts ----------
T(286,13,"wschód słońca: 04:49 CEST",NAVY,"start",{ls:.2});
T(364,25,"zachód słońca: 20:33 CEST",NAVY,"middle",{ls:.2});
T(595,13,"21°31'43\"E, 53°44'52\"N",NAVY,"middle",{ls:.4});
T(589,25,"(x=258, y=362)",NAVY,"middle",{ls:.4});
T(818,13,"wysokość (min, środek, max)",NAVY,"middle",{ls:.2});
T(818,25,"128 - 146 - 176 m",NAVY,"middle",{ls:.6});
T(303,55,"CEST");T(855,55,"CEST");T(307,617,"UTC");T(860,617,"UTC");
hourTickIdx.forEach((h,i)=>{T(mx(h),55,cestTicks[i],"#000","middle");T(mx(h),617,utcTicks[i],"#000","middle");});
dayHours.forEach((h,i)=>{T(mx(h)+.5,42,dayNames[i],"#000","middle",{ls:.3});T(mx(h)+.5,629,dayLabels[i],"#000","middle");});
T(309,652,"meteo@icm.edu.pl",NAVY,"start",{ls:.45});
T(623,652,"© 2007-2025 ICM, Uniwersytet Warszawski",NAVY,"start",{ls:.2});
[[293,97,"temperatura"],[306,97,"(°C)"],[293,186,"opad"],[306,186,"(mm/h, kg/m²/h)"],[293,272,"ciśnienie"],[306,272,"(hPa)"],[293,362,"wiatr"],[306,362,"(m/s)"],[293,480,"pion. rozciągł. chm."],[306,480,"(km)"],[293,572,"zachmurzenie"],[306,572,"(oktanty)"],
 [905,97,"temperatura"],[892,97,"(°C)"],[905,186,"wilgotność wzgl."],[892,186,"(%)"],[905,273,"ciśnienie"],[892,273,"(mm Hg)"],[905,360,"wiatr"],[892,360,"(km/h)"],[905,476,"widzialność"],[892,476,"(km)"],[905,563,"mgła"],[892,563,"(frakcja)"]].forEach(d=>V(...d));
// compasses
T(284,420,"W",NAVY);T(295,411,"N",NAVY);T(302,418,"E",NAVY);T(294,427,"S",NAVY);
T(883,420,"W",NAVY);T(893,411,"N",NAVY);T(902,418,"E",NAVY);T(893,427,"S",NAVY);
// local and UTC ticks in legend
[["20",4.2],["02",10.2],["08",16.0]].forEach(d=>T(lx(d[1]),52,d[0],"#000","middle"));
[["18",4.2],["00",10.2],["06",16.0]].forEach(d=>T(lx(d[1]),615,d[0],"#000","middle"));
// legend boxes
svg.append("rect").attr("x",11).attr("y",505).attr("width",44).attr("height",12).attr("fill","#7fcbff");
svg.append("rect").attr("x",10).attr("y",551).attr("width",41).attr("height",12).attr("fill","#7fcbff");
const RED="#f00",LB="#7fcfff";
const LEG=10.7;
[["Czas lokalny",6,19,"#000"],["(CET/CEST)",6,31,"#000"],["Temperatura gruntu",6,47,BROWN],["max/min",28,57,BROWN],["Temperatura:",6,68,"#000"],["punkt środkowy",13,81,RED],["max/min",28,90,"#ffdccf"],["odczuwana",10,103,"#0000e0"],["max/min",28,113,"#a5d8ff"],["Temp. punktu rosy",6,124,"#6a5acd"],
 ["Opad powyżej skali",6,142,RED],["Wilgotność względna",6,156,HUM],["Wystąpienie burzy",6,170,"#000"],["Deszcz:",6,184,GREEN],["max",50,184,GREEN],["średni",49,195,GREEN],["Śnieg:",6,206,"#1030c0"],["max",49,206,"#1030c0"],["średni",49,217,"#1030c0"],["Wystąpienie opadu",6,229,RED],["konwekcyjnego",6,240,RED],
 ["Ciśnienie",5,267,"#000"],["zredukowane",5,279,"#000"],["do poziomu morza",5,293,"#000"],["Wiatr na 10m:",5,321,"#000"],["poryw powyżej skali",10,338,RED],["max porywy wiatru",10,352,RED],["prędkość wiatru",10,372,NAVY],["w środku obszaru",10,384,NAVY],["kierunek wiatru",10,412,NAVY],["Wierzchołek chmur",6,429,BROWN],
 ["Podstawa chmur*",6,448,"#000"],["o pokryciu",6,458,"#000"],["> 7.9 okt.",11,471,"#000"],["> 6.5 okt.",11,482,"#555"],["> 4.5 okt.",11,492,"#aaa"],["> 2.5 okt.",11,503,"#ddd"],["> 0.1 okt.",11,514,"#fff"],["Widzialność",6,529,ORANGE],["Chmury:",6,547,"#000"],["wysokie",11,560,"#fff"],["średnie",10,572,"#aaa"],["niskie",10,584,"#333"],["bardzo niskie",10,596,"#333"],["Mgła",6,608,"#ffb000"]
].forEach(d=>T(d[1],d[2],d[0],d[3],"start",{size:LEG}));
T(6,625,"Czas uniwersalny (UTC)","#000","start",{ls:.55,size:LEG});
T(5,650,"* powyżej poziomu morza","#000","start",{size:9,weight:"bold"});
// leader lines
[["#000",[[68,16],[130,16],[157,46]]],[BROWN,[[103,44],[120,44],[157,100]]],[RED,[[92,76],[115,76]]],[RED,[[130,76],[155,100]]],["#0000e0",[[70,99],[135,99]]],["#6a5acd",[[94,120],[112,120]]],
 [RED,[[103,137],[135,137],[146,147]]],[HUM,[[106,151],[112,151]]],[HUM,[[130,151],[147,165]]],["#000",[[100,166],[112,166]]],["#000",[[130,166],[139,172]]],[GREEN,[[71,179],[140,179]]],[GREEN,[[80,190],[135,190]]],["#1030c0",[[69,202],[112,202]]],["#1030c0",[[130,202],[161,171]]],["#1030c0",[[81,212],[130,212],[163,176]]],[RED,[[97,224],[143,224]]],
 ["#000",[[52,264],[130,264],[135,262]]],[RED,[[113,334],[118,334]]],[RED,[[130,334],[139,316]]],[RED,[[107,348],[130,348],[145,340]]],[NAVY,[[92,368],[135,368]]],[NAVY,[[86,410],[135,410]]],[BROWN,[[100,429],[135,431],[185,450]]],
 ["#000",[[57,468],[135,468],[190,457]]],["#555",[[57,480],[141,480]]],["#aaa",[[57,490],[130,490],[143,500]]],["#ddd",[[57,501],[130,501],[137,505]]],[LB,[[55,509],[137,509]]],[LB,[[55,511],[137,511]]],[ORANGE,[[67,527],[130,527],[175,465]]],
 [LB,[[53,556],[185,556]]],[LB,[[53,558],[185,558]]],["#aaa",[[50,571],[193,570]]],["#333",[[37,582],[120,582]]],["#333",[[133,582],[140,580]]],["#333",[[74,594],[140,594],[150,590]]],["#ffb000",[[26,605],[215,605],[218,600]]],["#000",[[140,623],[150,622],[157,610]]]
].forEach(d=>svg.append("path").attr("d",d3.line()(d[1])).attr("fill","none").attr("stroke",d[0]).attr("stroke-width",1));
</script></body></html>
